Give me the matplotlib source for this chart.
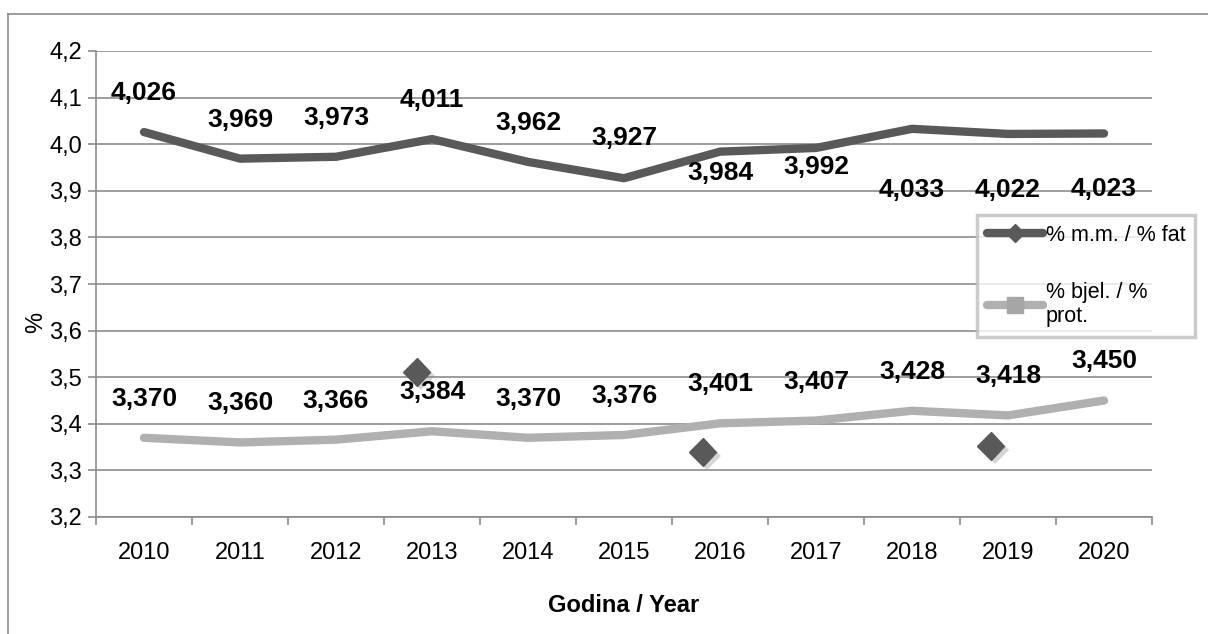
import matplotlib
matplotlib.use("Agg")
import matplotlib.pyplot as plt
import matplotlib.patheffects as pe
from matplotlib.lines import Line2D
import numpy as np

plt.rcParams['font.family'] = ['Liberation Sans', 'DejaVu Sans']

years = ['2010', '2011', '2012', '2013', '2014', '2015', '2016', '2017', '2018', '2019', '2020']
fat = [4.026, 3.969, 3.973, 4.011, 3.962, 3.927, 3.984, 3.992, 4.033, 4.022, 4.023]
protein = [3.370, 3.360, 3.366, 3.384, 3.370, 3.376, 3.401, 3.407, 3.428, 3.418, 3.450]
# stray diamond markers left in the source chart (category position, value)
stray_x = [2.84, 5.82, 8.82]
stray_y = [3.511, 3.339, 3.352]
yticks = [3.2, 3.3, 3.4, 3.5, 3.6, 3.7, 3.8, 3.9, 4.0, 4.1, 4.2]

# label offsets in pixels (vertical), per point
fat_off = [-39, -39, -39, -39, -39, -40, 21, 19, 61, 56, 56]
prot_off = [-39] * 11

dark = '#595959'
light = '#b0b0b0'
grid = '#8c8c8c'

fig = plt.figure(figsize=(12.08, 6.34), dpi=100)
ax = fig.add_axes([96/1208, 1-517/634, (1152-96)/1208, (517-51)/634])

x = np.arange(len(years))
ax.plot(x, fat, color=dark, lw=6, solid_capstyle='round', solid_joinstyle='round', zorder=3)
ax.plot(x, protein, color=light, lw=6, solid_capstyle='round', solid_joinstyle='round', zorder=3)

ax.plot(stray_x, stray_y, 'D', color=dark, ms=14, mec=dark, zorder=4,
        path_effects=[pe.SimplePatchShadow(offset=(3, -3), shadow_rgbFace='#888888', alpha=0.35), pe.Normal()])

def fmt(v, n):
    return f"{v:.{n}f}".replace('.', ',')

for xi, v, o in zip(x, fat, fat_off):
    ax.annotate(fmt(v, 3), (xi, v), xytext=(0, -o), textcoords='offset pixels',
                ha='center', va='center', fontsize=19, fontweight='bold', zorder=5)
for xi, v, o in zip(x, protein, prot_off):
    ax.annotate(fmt(v, 3), (xi, v), xytext=(0, -o), textcoords='offset pixels',
                ha='center', va='center', fontsize=19, fontweight='bold', zorder=5)

ax.set_ylim(3.2, 4.2)
ax.set_xlim(-0.5, 10.5)
ax.set_yticks(yticks)
ax.set_yticklabels([fmt(v, 1) for v in yticks], fontsize=17)
ax.set_xticks(x)
ax.set_xticklabels(years, fontsize=17)
ax.set_xticks(np.arange(-0.5, 11, 1), minor=True)
ax.tick_params(axis='x', which='major', length=0, pad=18)
ax.tick_params(axis='x', which='minor', length=6, width=1.2, color=grid, direction='out')
ax.tick_params(axis='y', length=6, width=1.2, color=grid, direction='out', pad=4)

ax.grid(axis='y', color=grid, lw=1.2)
ax.set_axisbelow(True)
for s in ['top', 'right']:
    ax.spines[s].set_visible(False)
for s in ['left', 'bottom']:
    ax.spines[s].set_color(grid)
    ax.spines[s].set_linewidth(1.2)

fig.text(36/1208, 1-322/634, '%', rotation=90, ha='center', va='center', fontsize=17)
fig.text(624/1208, 1-606/634, 'Godina / Year', ha='center', va='center', fontsize=17, fontweight='bold')

# outer chart frame (only top and left edges show)
fig.add_artist(Line2D([8/1208, 1], [1-14/634, 1-14/634], transform=fig.transFigure, color='#8c8c8c', lw=1.2))
fig.add_artist(Line2D([8/1208, 8/1208], [0, 1-14/634], transform=fig.transFigure, color='#8c8c8c', lw=1.2))

handles = [Line2D([], [], color=dark, lw=6, marker='D', ms=9, solid_capstyle='round'),
           Line2D([], [], color=light, lw=6, marker='s', ms=11, mfc='#a6a6a6', mec='#a6a6a6', solid_capstyle='round')]
leg = fig.legend(handles, ['% m.m. / % fat', '% bjel. / %\nprot.'], loc='upper left',
                 bbox_to_anchor=(977/1208, 1-215/634), bbox_transform=fig.transFigure,
                 fontsize=15.5, frameon=True, fancybox=False, borderaxespad=0,
                 handlelength=2.6, handletextpad=0.15, labelspacing=1.7, borderpad=0.45)
leg.get_frame().set_edgecolor('#bfbfbf')
leg.get_frame().set_linewidth(2.5)

fig.savefig('out.png', dpi=100)
